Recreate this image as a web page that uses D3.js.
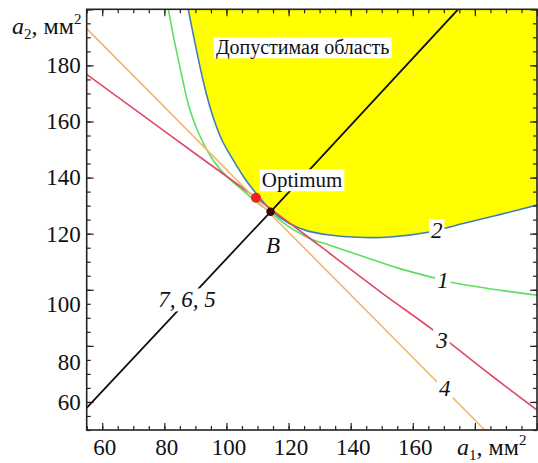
<!DOCTYPE html>
<html><head><meta charset="utf-8">
<script src="https://cdn.jsdelivr.net/npm/d3@7"></script>
</head><body style="margin:0">
<svg id="c" width="538" height="463">
<text x="12" y="34" font-size="24" font-family="Liberation Serif" fill="#111"><tspan font-style="italic">a</tspan><tspan font-size="15" dy="5">2</tspan><tspan dy="-5">, мм</tspan><tspan font-size="15" dy="-10">2</tspan></text>
<text x="457" y="455" font-size="24" font-family="Liberation Serif" fill="#111"><tspan font-style="italic">a</tspan><tspan font-size="15" dy="5">1</tspan><tspan dy="-5">, мм</tspan><tspan font-size="15" dy="-10">2</tspan></text>
</svg>
<script>
// ---- data ----
const xTickLabels = [60, 80, 100, 120, 140, 160];
const yTickLabels = [60, 80, 100, 120, 140, 160, 180];
// curve 1 (green)
const curve1 = [[81.3,200],[83,190],[85.5,177],[88,165],[91,156],[95.7,146.2],[100,140.5],[106.5,134.3],[110,131],[114,127.8],[120,122.6],[127,118.2],[133.3,115.9],[145,111.5],[155,107.8],[165.6,104.6],[174.1,102.3],[187,100],[200,98.1]];
// curve 2 (boundary of the feasible region)
const curve2 = [[87.7,200],[89.5,190],[91.5,179.4],[93.5,170],[95.7,161.6],[98.5,153.5],[102.2,146.2],[106,139.5],[110,133.8],[114.2,128.5],[120,123.8],[126,121],[133.3,119.5],[142,118.7],[152.7,118.8],[165,120.5],[176.2,123.6],[188,126.8],[200,130.2]];
// line 3 (red)
const line3 = [[55,176.8],[70,164.7],[90,148.5],[109.5,132.8],[130,115.7],[150,98.9],[166.6,85.6],[185,69.7],[200,57.1]];
// line 4 (orange)
const line4 = [[55,193.1],[114.2,127.0],[183.2,50]];
// lines 7, 6, 5 (black)
const line765 = [[55,57.9],[114.2,127.8],[174.6,200]];
const optimum = [109.5, 132.8];
const pointB = [114.2, 127.8];
const labels = [
  {t:"Допустимая область", x:96.6, y:186.4, italic:false, size:20, anchor:"start", box:true},
  {t:"Optimum", x:111.4, y:139.1, italic:false, size:21, anchor:"start", box:true},
  {t:"2", x:167.7, y:121.2, italic:true, size:23, anchor:"middle", box:true},
  {t:"1", x:169.7, y:103.4, italic:true, size:23, anchor:"middle", box:true},
  {t:"3", x:169.4, y:82.1, italic:true, size:23, anchor:"middle", box:true},
  {t:"4", x:170.3, y:65.0, italic:true, size:23, anchor:"middle", box:true},
  {t:"B", x:115.0, y:115.9, italic:true, size:23, anchor:"middle", box:false},
  {t:"7, 6, 5", x:87.3, y:96.5, italic:true, size:23, anchor:"middle", box:true}
];

// ---- layout ----
const FONT = "Liberation Serif";
const W = 538, H = 463;
const m = {l:86.7, r:1, t:9.3, b:33};
const pw = W - m.l - m.r, ph = H - m.t - m.b;
const x = d3.scaleLinear().domain([55,200]).range([0,pw]);
const y = d3.scaleLinear().domain([50,200]).range([ph,0]);

const svg = d3.select("#c").style("display","block");
const g = svg.insert("g","text").attr("transform",`translate(${m.l},${m.t})`);

svg.append("defs").append("clipPath").attr("id","clip")
  .append("rect").attr("width",pw).attr("height",ph);
const plot = g.append("g").attr("clip-path","url(#clip)");

const line = d3.line().x(d=>x(d[0])).y(d=>y(d[1])).curve(d3.curveCatmullRom.alpha(0.5));
const lineStraight = d3.line().x(d=>x(d[0])).y(d=>y(d[1]));

// feasible region fill
plot.append("path")
  .attr("d", line(curve2) + `L${x(200)},${y(200)}L${x(curve2[0][0])},${y(200)}Z`)
  .attr("fill","#ffff00").attr("stroke","none");

plot.append("path").attr("d", line(curve1)).attr("fill","none").attr("stroke","#5ddf5d").attr("stroke-width",1.6);
plot.append("path").attr("d", line(curve2)).attr("fill","none").attr("stroke","#3f7fb8").attr("stroke-width",1.6);
plot.append("path").attr("d", line(line3)).attr("fill","none").attr("stroke","#df4a64").attr("stroke-width",1.6);
plot.append("path").attr("d", lineStraight(line4)).attr("fill","none").attr("stroke","#f1b86c").attr("stroke-width",1.6);
plot.append("path").attr("d", lineStraight(line765)).attr("fill","none").attr("stroke","#111").attr("stroke-width",1.8);

// labels with white boxes
labels.forEach(L=>{
  const grp = g.append("g");
  const t = grp.append("text")
    .attr("x", x(L.x)).attr("y", y(L.y))
    .attr("dy", "0.34em")
    .attr("text-anchor", L.anchor)
    .attr("font-family", FONT)
    .attr("font-size", L.size)
    .attr("fill","#111")
    .text(L.t);
  if (L.italic) t.attr("font-style","italic");
  if (L.box) {
    const bb = t.node().getBBox();
    grp.insert("rect","text")
      .attr("x", bb.x-2).attr("y", bb.y+1).attr("width", bb.width+4).attr("height", bb.height-2)
      .attr("fill","#fff");
  }
});

// points
g.append("circle").attr("cx",x(optimum[0])).attr("cy",y(optimum[1])).attr("r",5).attr("fill","#ff1a1a");
g.append("circle").attr("cx",x(pointB[0])).attr("cy",y(pointB[1])).attr("r",4.2).attr("fill","#3a0505");

// ---- axes / frame ----
const minorX = d3.range(55,201,5), majorX = d3.range(60,201,20);
const minorY = d3.range(50,201,5), majorY = d3.range(60,201,20);
function ax(gen, scale, vals, size, lab) {
  return gen(scale).tickValues(vals).tickSize(size).tickPadding(lab?lab.pad:3)
    .tickFormat(lab ? (d=> lab.show.includes(d) ? d : "") : "");
}
const fs = 23;
const gb = g.append("g").attr("transform",`translate(0,${ph})`);
gb.append("g").call(ax(d3.axisBottom, x, minorX, -4));
gb.append("g").attr("class","lab").call(ax(d3.axisBottom, x, majorX, -7, {pad:9, show:xTickLabels}));
const gl = g.append("g");
gl.append("g").call(ax(d3.axisLeft, y, minorY, -4));
gl.append("g").attr("class","lab").call(ax(d3.axisLeft, y, majorY, -7, {pad:6, show:yTickLabels}));
const gt = g.append("g");
gt.append("g").call(ax(d3.axisTop, x, minorX, -4));
gt.append("g").call(ax(d3.axisTop, x, majorX, -7));
const gr = g.append("g").attr("transform",`translate(${pw},0)`);
gr.append("g").call(ax(d3.axisRight, y, minorY, -4));
gr.append("g").call(ax(d3.axisRight, y, majorY, -7));

g.selectAll(".domain").remove();
g.selectAll(".tick line").attr("stroke","#222").attr("stroke-width",1.2);
g.selectAll("g[font-family]").attr("font-family", FONT);
g.selectAll(".lab text").attr("font-size",fs).attr("font-family",FONT).attr("fill","#111");
// small label nudges to match the reference placement
const yNudge = {100:14, 80:16};
const xNudge = 2;
gl.selectAll(".lab .tick text").attr("transform", d => `translate(0,${yNudge[d]||0})`);
gb.selectAll(".lab .tick text").attr("transform", `translate(${xNudge},0)`);

g.append("rect").attr("width",pw).attr("height",ph).attr("fill","none").attr("stroke","#222").attr("stroke-width",1.6);
</script>
</body></html>
